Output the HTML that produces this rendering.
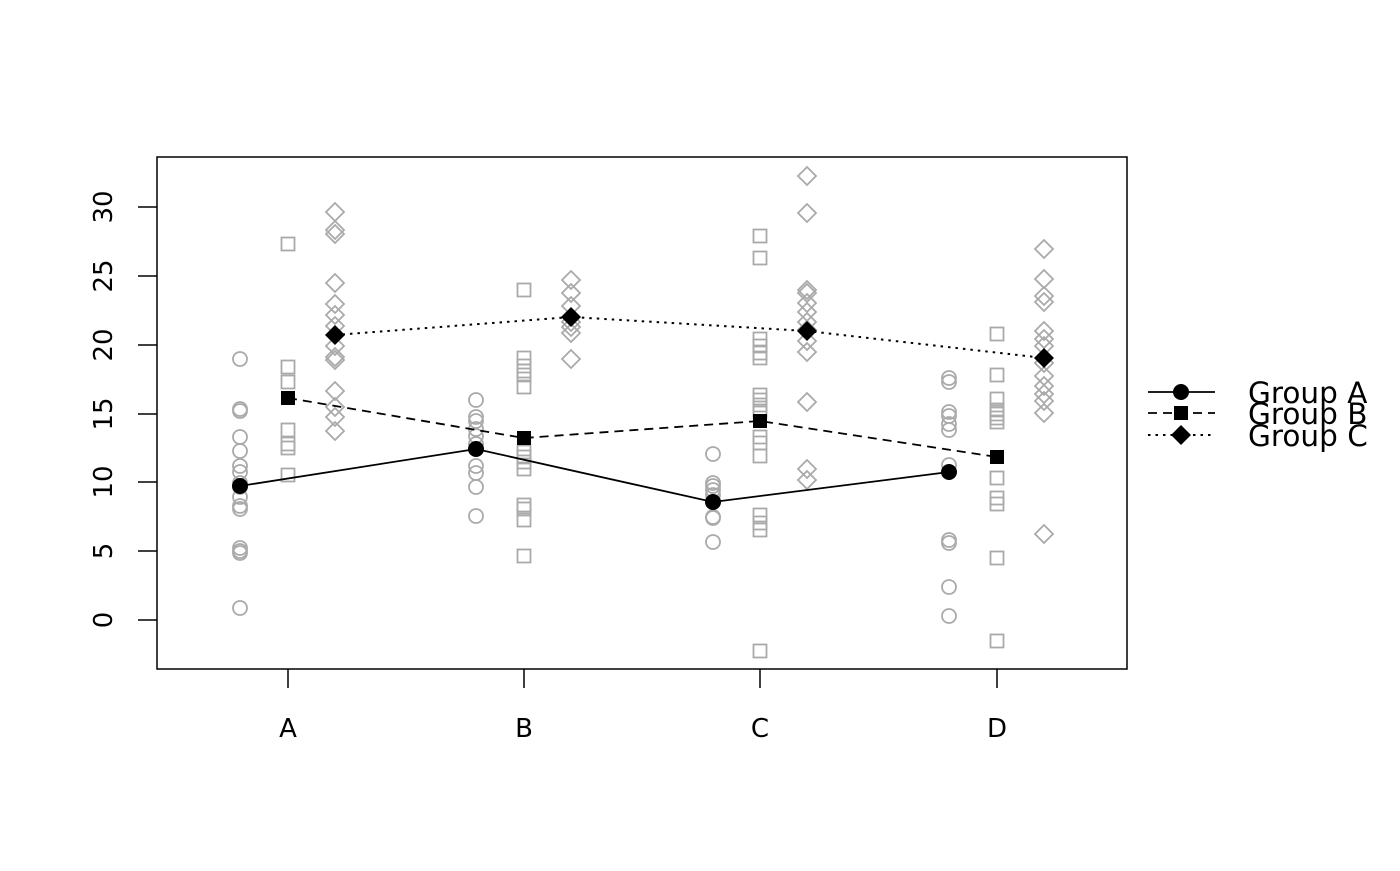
<!DOCTYPE html>
<html><head><meta charset="utf-8"><style>html,body{margin:0;padding:0;background:#fff}</style></head>
<body>
<svg width="1400" height="866" xmlns="http://www.w3.org/2000/svg" xmlns:xlink="http://www.w3.org/1999/xlink" font-family="'DejaVu Sans','Liberation Sans',sans-serif">
<defs>
<circle id="c" r="7" fill="none" stroke="#aaa" stroke-width="1.8"/>
<rect id="s" x="-6.5" y="-6.5" width="13" height="13" fill="none" stroke="#aaa" stroke-width="1.8"/>
<path id="d" d="M0,-9 L9,0 L0,9 L-9,0Z" fill="none" stroke="#aaa" stroke-width="1.8"/>
</defs>
<rect x="157" y="157" width="970" height="512" fill="none" stroke="#000" stroke-width="1.5"/>
<g stroke="#000" stroke-width="1.5">
<line x1="138" y1="620" x2="157" y2="620"/><line x1="138" y1="551" x2="157" y2="551"/><line x1="138" y1="482" x2="157" y2="482"/><line x1="138" y1="414" x2="157" y2="414"/><line x1="138" y1="345" x2="157" y2="345"/><line x1="138" y1="276" x2="157" y2="276"/><line x1="138" y1="207" x2="157" y2="207"/>
<line x1="288" y1="669" x2="288" y2="688"/><line x1="524" y1="669" x2="524" y2="688"/><line x1="760" y1="669" x2="760" y2="688"/><line x1="997" y1="669" x2="997" y2="688"/>
</g>
<g font-size="26" text-anchor="middle" fill="#000">
<text transform="translate(112,620) rotate(-90)">0</text>
<text transform="translate(112,551) rotate(-90)">5</text>
<text transform="translate(112,482) rotate(-90)">10</text>
<text transform="translate(112,414) rotate(-90)">15</text>
<text transform="translate(112,345) rotate(-90)">20</text>
<text transform="translate(112,276) rotate(-90)">25</text>
<text transform="translate(112,207) rotate(-90)">30</text>
<text x="288" y="737">A</text><text x="524" y="737">B</text><text x="760" y="737">C</text><text x="997" y="737">D</text>
</g>
<g>
<use xlink:href="#c" x="240" y="359"/><use xlink:href="#c" x="240" y="409"/><use xlink:href="#c" x="240" y="411"/><use xlink:href="#c" x="240" y="437"/><use xlink:href="#c" x="240" y="451"/><use xlink:href="#c" x="240" y="466"/><use xlink:href="#c" x="240" y="472"/><use xlink:href="#c" x="240" y="483"/><use xlink:href="#c" x="240" y="487"/><use xlink:href="#c" x="240" y="497"/><use xlink:href="#c" x="240" y="506"/><use xlink:href="#c" x="240" y="509"/><use xlink:href="#c" x="240" y="548"/><use xlink:href="#c" x="240" y="551"/><use xlink:href="#c" x="240" y="553"/><use xlink:href="#c" x="240" y="608"/>
<use xlink:href="#s" x="288" y="244"/><use xlink:href="#s" x="288" y="367"/><use xlink:href="#s" x="288" y="382"/><use xlink:href="#s" x="288" y="430"/><use xlink:href="#s" x="288" y="444"/><use xlink:href="#s" x="288" y="448"/><use xlink:href="#s" x="288" y="475"/>
<use xlink:href="#d" x="335" y="212"/><use xlink:href="#d" x="335" y="230"/><use xlink:href="#d" x="335" y="234"/><use xlink:href="#d" x="335" y="283"/><use xlink:href="#d" x="335" y="304"/><use xlink:href="#d" x="335" y="315"/><use xlink:href="#d" x="335" y="326"/><use xlink:href="#d" x="335" y="346"/><use xlink:href="#d" x="335" y="357"/><use xlink:href="#d" x="335" y="360"/><use xlink:href="#d" x="335" y="391"/><use xlink:href="#d" x="335" y="407"/><use xlink:href="#d" x="335" y="417"/><use xlink:href="#d" x="335" y="431"/>
<use xlink:href="#c" x="476" y="400"/><use xlink:href="#c" x="476" y="417"/><use xlink:href="#c" x="476" y="421"/><use xlink:href="#c" x="476" y="429"/><use xlink:href="#c" x="476" y="436"/><use xlink:href="#c" x="476" y="444"/><use xlink:href="#c" x="476" y="466"/><use xlink:href="#c" x="476" y="473"/><use xlink:href="#c" x="476" y="487"/><use xlink:href="#c" x="476" y="516"/>
<use xlink:href="#s" x="524" y="290"/><use xlink:href="#s" x="524" y="358"/><use xlink:href="#s" x="524" y="366"/><use xlink:href="#s" x="524" y="371"/><use xlink:href="#s" x="524" y="375"/><use xlink:href="#s" x="524" y="387"/><use xlink:href="#s" x="524" y="452"/><use xlink:href="#s" x="524" y="457"/><use xlink:href="#s" x="524" y="462"/><use xlink:href="#s" x="524" y="469"/><use xlink:href="#s" x="524" y="505"/><use xlink:href="#s" x="524" y="509"/><use xlink:href="#s" x="524" y="520"/><use xlink:href="#s" x="524" y="556"/>
<use xlink:href="#d" x="571" y="280"/><use xlink:href="#d" x="571" y="293"/><use xlink:href="#d" x="571" y="306"/><use xlink:href="#d" x="571" y="322"/><use xlink:href="#d" x="571" y="327"/><use xlink:href="#d" x="571" y="333"/><use xlink:href="#d" x="571" y="359"/>
<use xlink:href="#c" x="713" y="454"/><use xlink:href="#c" x="713" y="483"/><use xlink:href="#c" x="713" y="486"/><use xlink:href="#c" x="713" y="490"/><use xlink:href="#c" x="713" y="495"/><use xlink:href="#c" x="713" y="502"/><use xlink:href="#c" x="713" y="517"/><use xlink:href="#c" x="713" y="518"/><use xlink:href="#c" x="713" y="542"/>
<use xlink:href="#s" x="760" y="236"/><use xlink:href="#s" x="760" y="258"/><use xlink:href="#s" x="760" y="339"/><use xlink:href="#s" x="760" y="346"/><use xlink:href="#s" x="760" y="353"/><use xlink:href="#s" x="760" y="358"/><use xlink:href="#s" x="760" y="395"/><use xlink:href="#s" x="760" y="400"/><use xlink:href="#s" x="760" y="405"/><use xlink:href="#s" x="760" y="411"/><use xlink:href="#s" x="760" y="437"/><use xlink:href="#s" x="760" y="443"/><use xlink:href="#s" x="760" y="456"/><use xlink:href="#s" x="760" y="515"/><use xlink:href="#s" x="760" y="523"/><use xlink:href="#s" x="760" y="530"/><use xlink:href="#s" x="760" y="651"/>
<use xlink:href="#d" x="807" y="176"/><use xlink:href="#d" x="807" y="213"/><use xlink:href="#d" x="807" y="290"/><use xlink:href="#d" x="807" y="293"/><use xlink:href="#d" x="807" y="303"/><use xlink:href="#d" x="807" y="312"/><use xlink:href="#d" x="807" y="322"/><use xlink:href="#d" x="807" y="330"/><use xlink:href="#d" x="807" y="341"/><use xlink:href="#d" x="807" y="352"/><use xlink:href="#d" x="807" y="402"/><use xlink:href="#d" x="807" y="469"/><use xlink:href="#d" x="807" y="480"/>
<use xlink:href="#c" x="949" y="378"/><use xlink:href="#c" x="949" y="382"/><use xlink:href="#c" x="949" y="412"/><use xlink:href="#c" x="949" y="416"/><use xlink:href="#c" x="949" y="424"/><use xlink:href="#c" x="949" y="430"/><use xlink:href="#c" x="949" y="465"/><use xlink:href="#c" x="949" y="540"/><use xlink:href="#c" x="949" y="543"/><use xlink:href="#c" x="949" y="587"/><use xlink:href="#c" x="949" y="616"/>
<use xlink:href="#s" x="997" y="334"/><use xlink:href="#s" x="997" y="375"/><use xlink:href="#s" x="997" y="399"/><use xlink:href="#s" x="997" y="410"/><use xlink:href="#s" x="997" y="414"/><use xlink:href="#s" x="997" y="418"/><use xlink:href="#s" x="997" y="422"/><use xlink:href="#s" x="997" y="478"/><use xlink:href="#s" x="997" y="498"/><use xlink:href="#s" x="997" y="504"/><use xlink:href="#s" x="997" y="558"/><use xlink:href="#s" x="997" y="641"/>
<use xlink:href="#d" x="1044" y="249"/><use xlink:href="#d" x="1044" y="279"/><use xlink:href="#d" x="1044" y="296"/><use xlink:href="#d" x="1044" y="302"/><use xlink:href="#d" x="1044" y="331"/><use xlink:href="#d" x="1044" y="339"/><use xlink:href="#d" x="1044" y="346"/><use xlink:href="#d" x="1044" y="363"/><use xlink:href="#d" x="1044" y="376"/><use xlink:href="#d" x="1044" y="386"/><use xlink:href="#d" x="1044" y="394"/><use xlink:href="#d" x="1044" y="401"/><use xlink:href="#d" x="1044" y="413"/><use xlink:href="#d" x="1044" y="534"/>
</g>
<polyline points="240,486 476,449 713,502 949,472" fill="none" stroke="#000" stroke-width="1.8"/>
<polyline points="288,398 524,438 760,421 997,457" fill="none" stroke="#000" stroke-width="1.8" stroke-dasharray="9,6"/>
<polyline points="335,335 571,317 807,331 1044,358" fill="none" stroke="#000" stroke-width="2" stroke-dasharray="2.5,5"/>
<g fill="#000">
<circle cx="240" cy="486" r="8"/><circle cx="476" cy="449" r="8"/><circle cx="713" cy="502" r="8"/><circle cx="949" cy="472" r="8"/>
<rect x="281" y="391" width="14" height="14"/><rect x="517" y="431" width="14" height="14"/><rect x="753" y="414" width="14" height="14"/><rect x="990" y="450" width="14" height="14"/>
<path d="M335,325 L345,335 L335,345 L325,335Z"/><path d="M571,307 L581,317 L571,327 L561,317Z"/><path d="M807,321 L817,331 L807,341 L797,331Z"/><path d="M1044,348 L1054,358 L1044,368 L1034,358Z"/>
</g>
<line x1="1148" y1="392" x2="1215" y2="392" stroke="#000" stroke-width="1.8"/>
<line x1="1148" y1="413" x2="1215" y2="413" stroke="#000" stroke-width="1.8" stroke-dasharray="9,6"/>
<line x1="1148" y1="435" x2="1215" y2="435" stroke="#000" stroke-width="2" stroke-dasharray="2.5,5"/>
<g fill="#000">
<circle cx="1181" cy="392" r="8"/>
<rect x="1174" y="406" width="14" height="14"/>
<path d="M1181,425 L1191,435 L1181,445 L1171,435Z"/>
</g>
<g font-size="29.5" fill="#000">
<text x="1248" y="403">Group A</text>
<text x="1248" y="424">Group B</text>
<text x="1248" y="446">Group C</text>
</g>
</svg>
</body></html>
